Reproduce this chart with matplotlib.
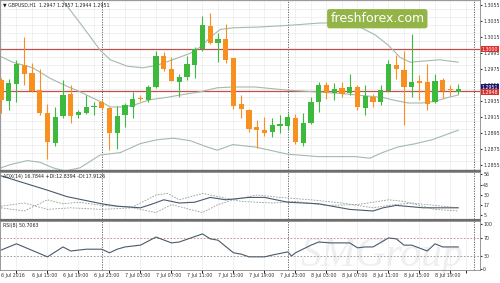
import numpy as np
import matplotlib.pyplot as plt
from matplotlib.lines import Line2D

# GBPUSD H1 candles, 6 Jul 11:00 .. 8 Jul 22:00
opens = [1.2962, 1.2936, 1.2957, 1.2981, 1.2971, 1.2949, 1.2921, 1.2883, 1.2917, 1.2944,
         1.2918, 1.2921, 1.2928, 1.2934, 1.2927, 1.2896, 1.2918, 1.2928, 1.2939, 1.2937,
         1.2953, 1.2992, 1.2976, 1.2959, 1.2966, 1.2981, 1.3001, 1.3029, 1.3008, 1.3013,
         1.2989, 1.2932, 1.2924, 1.2903, 1.2899, 1.2897, 1.2904, 1.2904, 1.2914, 1.2883,
         1.2908, 1.2934, 1.2956, 1.2946, 1.2952, 1.2946, 1.2953, 1.2927, 1.2941, 1.2934,
         1.2948, 1.2981, 1.2974, 1.2953, 1.2961, 1.2959, 1.2934, 1.2962, 1.2950, 1.2947]
highs = [1.2964, 1.2963, 1.2987, 1.3016, 1.2983, 1.2975, 1.2932, 1.2928, 1.2962, 1.2956,
         1.2924, 1.2943, 1.2934, 1.2937, 1.2928, 1.2929, 1.2933, 1.2947, 1.2943, 1.2956,
         1.2998, 1.2997, 1.2991, 1.2969, 1.2992, 1.3003, 1.3042, 1.3045, 1.3020, 1.3032,
         1.2989, 1.2943, 1.2926, 1.2912, 1.2916, 1.2914, 1.2918, 1.2921, 1.2919, 1.2921,
         1.2941, 1.2959, 1.2959, 1.2958, 1.2959, 1.2969, 1.2956, 1.2956, 1.2944, 1.2956,
         1.2987, 1.2993, 1.2998, 1.3019, 1.2968, 1.2982, 1.2969, 1.2964, 1.2956, 1.2957]
lows = [1.2921, 1.2924, 1.2934, 1.2956, 1.2947, 1.2918, 1.2863, 1.2879, 1.2914, 1.2908,
        1.2914, 1.2919, 1.2918, 1.2926, 1.2874, 1.2876, 1.2903, 1.2914, 1.2936, 1.2934,
        1.2952, 1.2973, 1.2961, 1.2941, 1.2962, 1.2964, 1.2998, 1.3007, 1.2984, 1.2983,
        1.2926, 1.2914, 1.2897, 1.2877, 1.2892, 1.2891, 1.2896, 1.2899, 1.2882, 1.2879,
        1.2907, 1.2922, 1.2938, 1.2937, 1.2941, 1.2943, 1.2924, 1.2918, 1.2928, 1.2931,
        1.2947, 1.2963, 1.2906, 1.2941, 1.2937, 1.2924, 1.2933, 1.2939, 1.2942, 1.2944]
closes = [1.2937, 1.2958, 1.2982, 1.2969, 1.2948, 1.2921, 1.2884, 1.2916, 1.2943, 1.2917,
          1.2922, 1.2928, 1.2929, 1.2927, 1.2896, 1.2917, 1.2931, 1.2938, 1.2938, 1.2953,
          1.2992, 1.2976, 1.2961, 1.2966, 1.2982, 1.3001, 1.3030, 1.3008, 1.3013, 1.2987,
          1.2929, 1.2926, 1.2900, 1.2899, 1.2896, 1.2906, 1.2907, 1.2916, 1.2884, 1.2908,
          1.2934, 1.2956, 1.2946, 1.2951, 1.2944, 1.2953, 1.2928, 1.2942, 1.2934, 1.2949,
          1.2982, 1.2976, 1.2953, 1.2959, 1.2958, 1.2932, 1.2961, 1.2948, 1.2949, 1.2951]

# Bollinger bands, read at a few bars
bb_up_x = [6, 7.9, 10.2, 12.8, 14.1, 16.3, 18.3, 20.1, 22.7, 24.4, 25.7, 27, 28.3, 30,
           33.4, 37, 41.2, 43.7, 46.3, 48.3, 50, 51.5, 52.8, 54, 56.6, 59]
bb_up = [1.3070, 1.3062, 1.3033, 1.2999, 1.2987, 1.2979, 1.2977, 1.2980, 1.2989, 1.2995,
         1.3003, 1.3015, 1.3025, 1.3027, 1.3028, 1.3030, 1.3033, 1.3033, 1.3028, 1.3018,
         1.3005, 1.2990, 1.2984, 1.2985, 1.2987, 1.2984]
bb_mid_x = [0, 1.5, 4.1, 6.3, 8.5, 10.2, 11.9, 13, 14.1, 15.4, 17, 19.2, 21.4, 23.1, 25.7,
            27.9, 29.9, 32.8, 37, 38.8, 43.7, 49.2, 50.5, 52.5, 54.3, 56, 57.7, 59]
bb_mid = [1.2991, 1.2984, 1.2977, 1.2964, 1.2954, 1.2947, 1.2939, 1.2934, 1.2928, 1.2928,
          1.2930, 1.2937, 1.2940, 1.2943, 1.2947, 1.2952, 1.2953, 1.2953, 1.2949, 1.2948,
          1.2945, 1.2940, 1.2937, 1.2933, 1.2933, 1.2935, 1.2940, 1.2943]
bb_low_x = [0, 1.2, 3.4, 5, 6.7, 8.3, 10.2, 12.8, 15.4, 17.9, 20.1, 22.2, 24.4, 26.6, 27.9,
            29.9, 32.8, 37, 40.9, 45.7, 47.6, 49.2, 51.2, 53.4, 55.6, 57.3, 59]
bb_low = [1.2852, 1.2856, 1.2861, 1.2859, 1.2852, 1.2848, 1.2852, 1.2868, 1.2871, 1.2882,
          1.2887, 1.2889, 1.2886, 1.2878, 1.2874, 1.2881, 1.2878, 1.2869, 1.2866, 1.2866,
          1.2864, 1.2871, 1.2878, 1.2882, 1.2887, 1.2893, 1.2899]

# ADX(14) and DI lines
adx_x = [0, 4, 6, 8.5, 11, 13, 15, 18, 19.6, 21, 23, 25, 27, 29, 32, 34, 37, 41, 45, 48,
         49.3, 51, 54.5, 59]
adx = [54, 42, 36, 28, 23, 19, 16, 14, 19, 24, 20, 21, 27, 24, 27, 27, 21, 19, 12, 10,
       14, 17, 14, 14]
pdi_x = [0, 3, 6, 8, 10, 13, 17, 20, 21.5, 23, 26, 28, 31, 35, 38, 42, 46, 50, 52, 56, 59]
pdi = [14, 10, 24, 19, 21, 17, 15, 30, 32, 24, 32, 28, 22, 20, 22, 17, 18, 24, 22, 12, 10]
mdi_x = [0, 3, 6, 9, 13, 17, 20, 22, 26, 28, 30, 33, 36, 40, 44, 48, 50, 53, 56, 59]
mdi = [16, 20, 12, 14, 12, 14, 8, 18, 8, 18, 24, 30, 27, 24, 20, 14, 17, 20, 17, 14]

# RSI(8)
rsi_x = [0, 2, 6, 8, 9, 11, 13, 14, 15, 16, 18, 20, 22, 23, 26, 27, 28, 30, 31, 32, 34,
         35, 37, 37.5, 38, 40, 41, 42.5, 45, 46, 47, 48, 50, 51, 52, 53, 55, 56, 57, 59]
rsi = [42, 56, 27, 49, 40, 44, 44, 36, 44, 49, 53, 71, 58, 60, 78, 67, 64, 36, 33, 27, 27,
       31, 38, 29, 36, 53, 60, 58, 58, 47, 49, 49, 69, 67, 53, 53, 40, 56, 49, 49]

x_labels = ['6 Jul 2016', '6 Jul 15:00', '6 Jul 19:00', '6 Jul 23:00', '7 Jul 03:00',
            '7 Jul 07:00', '7 Jul 11:00', '7 Jul 15:00', '7 Jul 19:00', '7 Jul 23:00',
            '8 Jul 03:00', '8 Jul 07:00', '8 Jul 11:00', '8 Jul 15:00', '8 Jul 19:00']
price_ticks = [1.2855, 1.2875, 1.2895, 1.2915, 1.2935, 1.2955, 1.2975, 1.2995, 1.3015,
               1.3035, 1.3055]
level_hi = 1.3000
level_lo = 1.2948
day_breaks = [13, 37, 61]

green = '#3dba3d'
orange = '#f7901e'
band_col = '#a3bbaa'
red = '#c0504d'
fs = 3.4

fig = plt.figure(figsize=(5, 2.83), dpi=100)
W, H = 500, 283
ax1 = fig.add_axes([0, 1 - 170 / H, 480 / W, 170 / H])
ax2 = fig.add_axes([0, 1 - 219 / H, 480 / W, 47 / H])
ax3 = fig.add_axes([0, 1 - 270 / H, 480 / W, 49 / H])

xlim = (-1 / 7.75, 479 / 7.75)
for ax in (ax1, ax2, ax3):
    ax.set_xlim(*xlim)
    ax.yaxis.tick_right()
    ax.tick_params(axis='y', labelsize=fs, length=1.5, pad=0.8, colors='#333333')
    ax.tick_params(axis='x', length=0)
    ax.set_xticks(np.arange(0, 62, 2), minor=True)
    ax.grid(True, which='minor', axis='x', color='#ebebeb', lw=0.5)
    for s in ax.spines.values():
        s.set_color('#888888')
        s.set_linewidth(0.6)
    for d in day_breaks:
        ax.axvline(d, color='#555555', lw=0.6, ls=(0, (1.5, 1.5)))

# main price panel
ax1.set_ylim(1.306175 - 0.000125 * 170, 1.306175)
ax1.set_yticks(np.arange(1.2850, 1.3065, 0.001), minor=True)
ax1.grid(True, which='minor', axis='y', color='#ebebeb', lw=0.5)
ax1.tick_params(axis='y', which='minor', length=0)
ax1.set_yticks(price_ticks)
ax1.set_yticklabels(['%.4f' % p for p in price_ticks])
ax1.set_xticks([])
ax1.axhline(level_hi, color=red, lw=0.9)
ax1.axhline(level_lo, color=red, lw=0.9)
ax1.plot(bb_up_x, bb_up, color=band_col, lw=0.8)
ax1.plot(bb_mid_x, bb_mid, color=band_col, lw=0.8)
ax1.plot(bb_low_x, bb_low, color=band_col, lw=0.8)
for i in range(len(opens)):
    c = green if closes[i] >= opens[i] else orange
    ax1.vlines(i, lows[i], highs[i], color=c, lw=0.8, zorder=3)
    body = max(abs(closes[i] - opens[i]), 0.00005)
    ax1.bar(i, body, bottom=min(opens[i], closes[i]), width=0.68, color=c, zorder=4)

ax1.text(0.006, 0.985, '\u25bc GBPUSD,H1  %.4f %.4f %.4f %.4f' % (opens[-1], highs[-1], lows[-1], closes[-1]),
         transform=ax1.transAxes, fontsize=fs, va='top', ha='left', color='#222222')

# price labels on the axis
for val, col, dy in ((level_hi, '#d9302c', 0), (closes[-1], '#1a1a6e', 0.0002),
                     (level_lo, '#d9302c', -0.00015)):
    ax1.text(1.004, val + dy, '%.4f' % val, transform=ax1.get_yaxis_transform(), fontsize=fs,
             color='white', va='center', ha='left', clip_on=False,
             bbox=dict(boxstyle='square,pad=0.12', fc=col, ec='none'))

# watermark
ax1.text(0.786, 0.89, 'freshforex.com', transform=ax1.transAxes, fontsize=9, color='white',
         ha='center', va='center',
         bbox=dict(boxstyle='round,pad=0.25,rounding_size=0.2', fc='#93b548', ec='none'))

# ADX panel
ax2.set_ylim(0, 58.75)
adx_ticks = [5, 17, 30, 43, 56]
ax2.set_yticks(adx_ticks)
ax2.set_xticks([])
ax2.plot(pdi_x, pdi, color='#8aa08a', lw=0.6, ls=(0, (2, 1.5)))
ax2.plot(mdi_x, mdi, color='#9a9a9a', lw=0.6, ls=(0, (2, 1.5)))
ax2.plot(adx_x, adx, color='#4a5a6a', lw=0.8)
ax2.text(0.006, 0.96, 'ADX(14) 16.7844 +DI:12.8394 -DI:17.9126', transform=ax2.transAxes,
         fontsize=fs, va='top', ha='left', color='#222222')

# RSI panel
ax3.set_ylim(269 / 0.45 - 270 / 0.45, 269 / 0.45 - 221 / 0.45)
ax3.set_yticks([0, 30, 70, 100])
ax3.axhline(70, color='#c08080', lw=0.6, ls=(0, (2, 2)))
ax3.axhline(30, color='#909090', lw=0.6, ls=(0, (2, 2)))
ax3.text(0.795, 0.3, 'SMGroup', transform=ax3.transAxes, fontsize=30, color='#efefef',
         style='italic', ha='center', va='center', family='Liberation Serif', zorder=0)
ax3.plot(rsi_x, rsi, color='#4a5a6a', lw=0.8)
ax3.text(0.006, 0.96, 'RSI(8) 50.7063', transform=ax3.transAxes,
         fontsize=fs, va='top', ha='left', color='#222222')
ax3.set_xticks(np.arange(0, 60, 4))
ax3.set_xticklabels(x_labels, fontsize=fs, ha='left', color='#333333')
ax3.tick_params(axis='x', pad=2.5)

# panel separators
for y in (171, 220):
    fig.add_artist(Line2D([0, 480 / W], [1 - y / H, 1 - y / H], color='#6e6e6e', lw=1.6))

fig.savefig('out.png', dpi=100)
